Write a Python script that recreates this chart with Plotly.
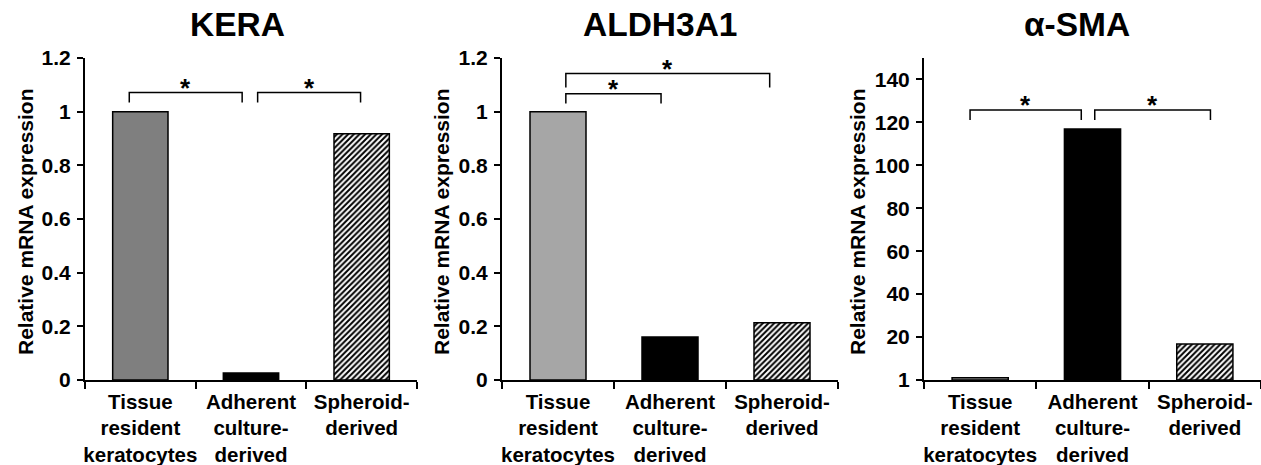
import plotly.graph_objects as go

# ---------------- data ----------------
categories = ["Tissue<br>resident<br>keratocytes", "Adherent<br>culture-<br>derived", "Spheroid-<br>derived"]
cat_pos = [0, 1, 2]

kera_values = [1.0, 0.026, 0.918]
aldh_values = [1.0, 0.16, 0.213]
sma_values = [1.0, 116.9, 16.8]

titles = ["KERA", "ALDH3A1", "α-SMA"]
y_title = "Relative mRNA expression"

ytick_vals_rel = [0, 0.2, 0.4, 0.6, 0.8, 1.0, 1.2]
ytick_text_rel = ["0", "0.2", "0.4", "0.6", "0.8", "1", "1.2"]
ytick_vals_sma = [0, 20, 40, 60, 80, 100, 120, 140]
ytick_text_sma = ["1", "20", "40", "60", "80", "100", "120", "140"]

# significance brackets: (x_start, x_end, y_top, y_drop_left, y_drop_right)
kera_brackets = [(-0.10, 0.92, 1.071, 1.034, 1.034), (1.06, 1.99, 1.071, 1.034, 1.034)]
aldh_brackets = [(0.07, 0.92, 1.067, 1.03, 1.03), (0.07, 1.89, 1.142, 1.09, 1.09)]
sma_brackets = [(-0.09, 0.90, 125.8, 121.1, 121.1), (1.02, 2.05, 125.8, 121.1, 121.1)]

# ---------------- style ----------------
W, H = 1261, 465
FONT = "Liberation Sans"
first_colors = ["#7f7f7f", "#a6a6a6", "#a6a6a6"]

panels = [
    dict(vals=kera_values, br=kera_brackets, yr=[0, 1.2], tv=ytick_vals_rel, tt=ytick_text_rel,
         xd=(85, 417), ytx=25, tx=237),
    dict(vals=aldh_values, br=aldh_brackets, yr=[0, 1.2], tv=ytick_vals_rel, tt=ytick_text_rel,
         xd=(502, 838), ytx=441, tx=660),
    dict(vals=sma_values, br=sma_brackets, yr=[0, 150], tv=ytick_vals_sma, tt=ytick_text_sma,
         xd=(924, 1261), ytx=857, tx=1077),
]

y_top_px, y_bot_px = 58, 380

fig = go.Figure()
annotations = []
layout = dict(
    template="none",
    width=W, height=H,
    margin=dict(l=0, r=0, t=0, b=0, autoexpand=False),
    paper_bgcolor="white", plot_bgcolor="white",
    showlegend=False,
    barmode="overlay",
    font=dict(family=FONT, color="black", size=21, weight="bold"),
)

for i, p in enumerate(panels):
    xa = "x" if i == 0 else f"x{i+1}"
    ya = "y" if i == 0 else f"y{i+1}"
    fills = [first_colors[i], "black", "white"]
    for k in range(3):
        pat = dict(shape="/", fgcolor="black", bgcolor="white", size=4, solidity=0.5) if k == 2 else dict(shape="")
        fig.add_trace(go.Bar(
            x=[cat_pos[k]], y=[p["vals"][k]], width=0.5,
            xaxis=xa, yaxis=ya,
            marker=dict(color=fills[k], line=dict(color="black", width=1.5), pattern=pat),
            hoverinfo="skip",
        ))
    for (x0, x1, yt, yl, yr) in p["br"]:
        fig.add_trace(go.Scatter(
            x=[x0, x0, x1, x1], y=[yl, yt, yt, yr], mode="lines",
            line=dict(color="black", width=1.5),
            xaxis=xa, yaxis=ya, hoverinfo="skip", cliponaxis=False,
        ))
        annotations.append(dict(
            x=(x0 + x1) / 2, y=yt, xref=xa, yref=ya, text="*", showarrow=False,
            font=dict(size=26, family=FONT, weight="bold"),
            xanchor="center", yanchor="bottom", yshift=-12,
        ))
    x0p, x1p = p["xd"]
    xkey = "xaxis" if i == 0 else f"xaxis{i+1}"
    ykey = "yaxis" if i == 0 else f"yaxis{i+1}"
    layout[xkey] = dict(
        domain=[x0p / W, min(x1p / W, 1.0)], anchor=ya,
        range=[-0.5, 2.5], type="linear", automargin=False,
        tickmode="array", tickvals=cat_pos, ticktext=categories,
        ticks="", showgrid=False, zeroline=False,
        showline=True, linecolor="black", linewidth=2,
        tickfont=dict(size=20.5),
        ticklabelstandoff=2,
        minor=dict(tickmode="array", tickvals=[-0.5, 0.5, 1.5, 2.5], ticks="outside",
                   ticklen=7, tickwidth=2, tickcolor="black", showgrid=False),
        fixedrange=True,
    )
    layout[ykey] = dict(
        domain=[(H - y_bot_px) / H, (H - y_top_px) / H], anchor=xa,
        range=p["yr"], tickmode="array", tickvals=p["tv"], ticktext=p["tt"],
        ticks="outside", ticklen=6, tickwidth=2, tickcolor="black",
        showgrid=False, zeroline=False, automargin=False,
        showline=True, linecolor="black", linewidth=2,
        tickfont=dict(size=21),
        ticklabelstandoff=2,
        fixedrange=True,
    )
    annotations.append(dict(
        x=p["ytx"] / W, y=(H - (y_top_px + y_bot_px) / 2 - 3) / H, xref="paper", yref="paper",
        text=y_title, textangle=-90, showarrow=False,
        font=dict(size=21, family=FONT, weight="bold"),
        xanchor="center", yanchor="middle",
    ))
    annotations.append(dict(
        x=p["tx"] / W, y=(H - 24.5) / H, xref="paper", yref="paper",
        text=titles[i], showarrow=False,
        font=dict(size=33.5, family=FONT, weight="bold"),
        xanchor="center", yanchor="middle",
    ))

layout["annotations"] = annotations
fig.update_layout(**layout)
fig.write_html(
    "out.html",
    config={"displayModeBar": False, "staticPlot": True},
    post_script="document.body.style.margin='0';document.body.style.overflow='hidden';",
)
